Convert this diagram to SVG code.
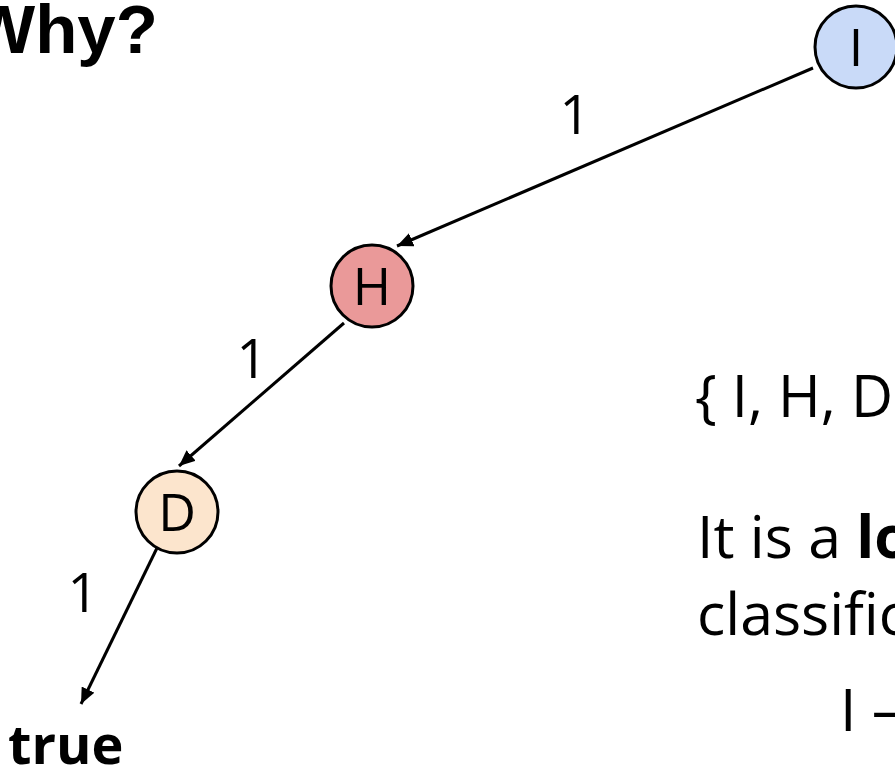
<svg xmlns="http://www.w3.org/2000/svg" width="895" height="768" viewBox="0 0 895 768">
<style>
.node{stroke:#000;stroke-width:3}
.nl{font-family:"Open Sans","Noto Sans",sans-serif;font-size:52px;text-anchor:middle;fill:#000}
.edge{stroke:#000;stroke-width:3;fill:none;marker-end:url(#ah)}
.el{font-family:"Open Sans","Noto Sans",sans-serif;font-size:54px;text-anchor:middle;fill:#000}
.t{font-family:"Open Sans","Noto Sans",sans-serif;fill:#000}
</style>
<defs>
<marker id="ah" markerWidth="18" markerHeight="14" refX="16" refY="7" orient="auto" markerUnits="userSpaceOnUse">
<path d="M0,0 L16,7 L0,14 Z" fill="#000"/>
</marker>
</defs>
<rect width="895" height="768" fill="#fff"/>
<text x="-30" y="53" font-family="'Liberation Sans',Arial,sans-serif" font-weight="bold" font-size="69" fill="#000">Why?</text>
<g id="edges">
<line class="edge" x1="813" y1="68" x2="397" y2="246"/>
<line class="edge" x1="344" y1="323" x2="179" y2="466"/>
<line class="edge" x1="157" y1="548" x2="81" y2="704"/>
<text class="el" x="575" y="134">1</text>
<text class="el" x="252" y="378">1</text>
<text class="el" x="83" y="612">1</text>
</g>
<g id="node-I">
<circle class="node" cx="856" cy="47" r="41" fill="#c9daf8"/>
<text class="nl" x="856" y="66">I</text>
</g>
<g id="node-H">
<circle class="node" cx="372" cy="286" r="41" fill="#ea9999"/>
<text class="nl" x="372" y="305">H</text>
</g>
<g id="node-D">
<circle class="node" cx="177" cy="512" r="41" fill="#fce5cd"/>
<text class="nl" x="177" y="531">D</text>
</g>
<g id="node-true">
<text class="t" x="8" y="764" font-size="54" font-weight="bold">true</text>
</g>
<text class="t" x="695" y="417" font-size="58">{ I, H, D</text>
<text class="t" x="697" y="558" font-size="59">It is a <tspan font-weight="bold">lo</tspan></text>
<text class="t" x="697" y="635" font-size="59">classific</text>
<text class="t" x="840" y="731" font-size="59">I –</text>
</svg>
